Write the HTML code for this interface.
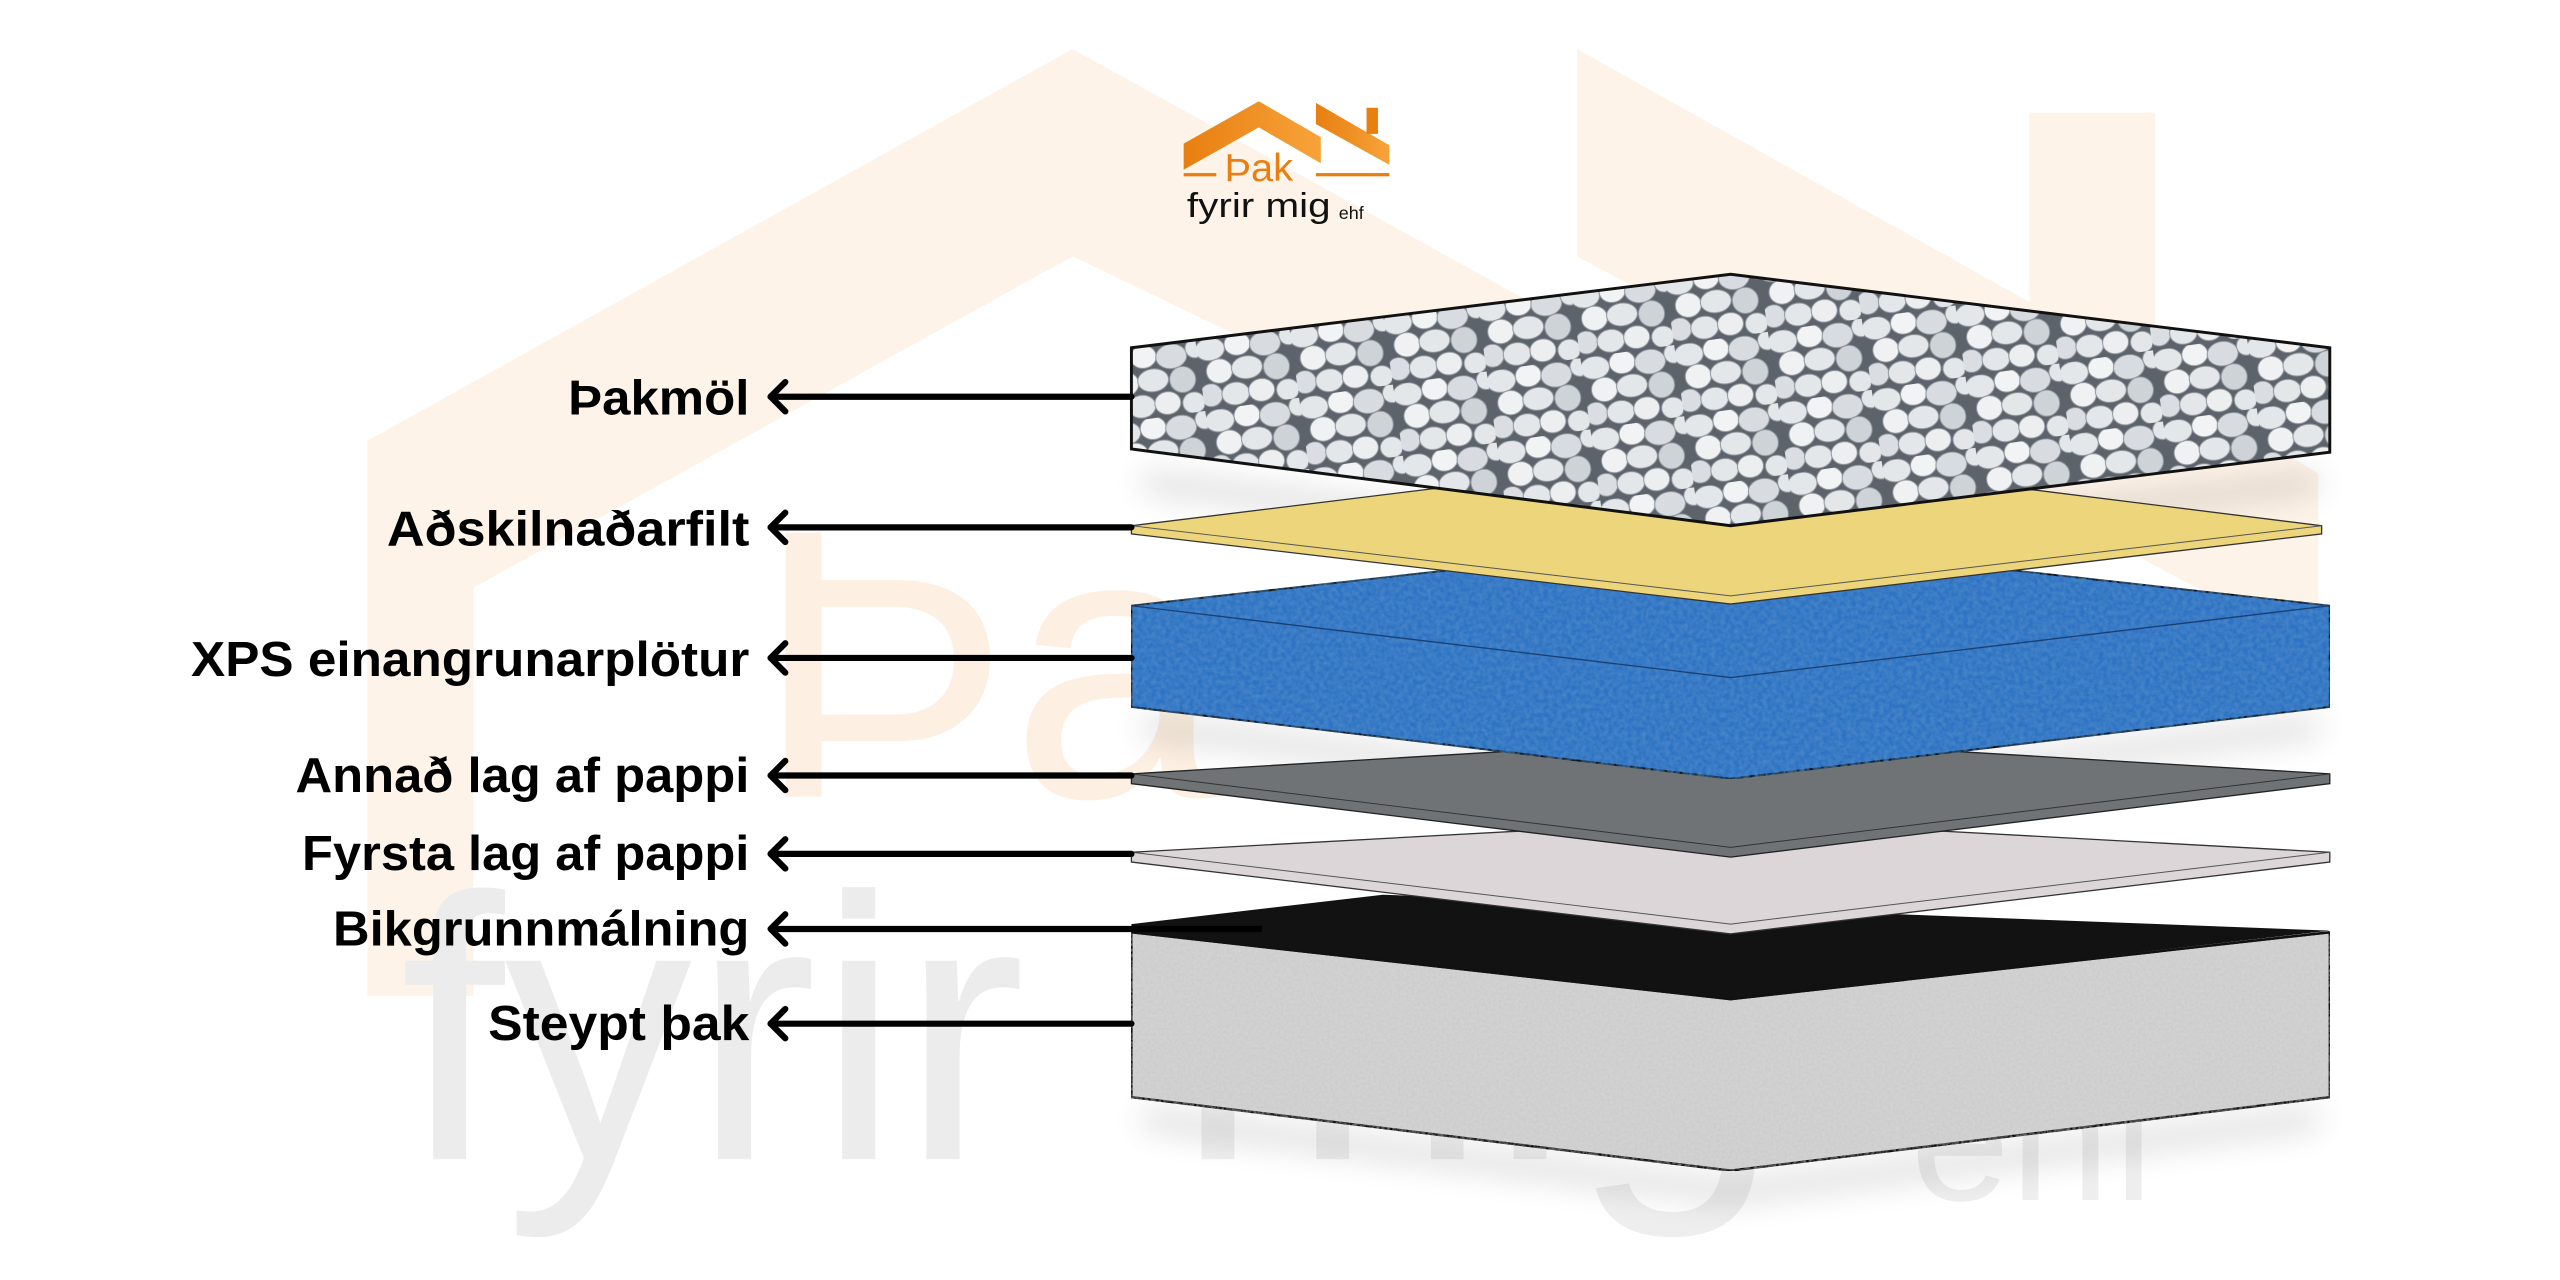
<!DOCTYPE html>
<html><head><meta charset="utf-8"><style>
html,body{margin:0;padding:0;background:#fff;width:2560px;height:1280px;overflow:hidden}
svg{display:block}
</style></head><body>
<svg width="2560" height="1280" viewBox="0 0 1568 784" xmlns="http://www.w3.org/2000/svg">
<defs>
<pattern id="grav" width="58" height="44" patternUnits="userSpaceOnUse" patternTransform="rotate(-8)">
<rect width="58" height="44" fill="#5d636a"/>
<g fill="#e4e7ea" stroke="#8d949b" stroke-width="0.6">
<ellipse cx="8" cy="7" rx="9" ry="7"/>
<ellipse cx="25" cy="6" rx="8" ry="7" fill="#f2f3f4"/>
<ellipse cx="42" cy="8" rx="9.5" ry="7.5" fill="#d8dce0"/>
<ellipse cx="57" cy="5" rx="6" ry="6"/>
<ellipse cx="12" cy="21" rx="8" ry="7.5" fill="#f0f1f2"/>
<ellipse cx="29" cy="21" rx="9.5" ry="7"/>
<ellipse cx="47" cy="23" rx="8" ry="8" fill="#ced3d8"/>
<ellipse cx="5" cy="35" rx="7" ry="7" fill="#dadee2"/>
<ellipse cx="20" cy="36" rx="8.5" ry="7"/>
<ellipse cx="36" cy="36" rx="8" ry="7" fill="#eceeef"/>
<ellipse cx="52" cy="38" rx="7" ry="6.5"/>
</g>
</pattern>
<filter id="noiseB" x="0" y="0" width="100%" height="100%">
<feTurbulence type="fractalNoise" baseFrequency="0.35" numOctaves="2" seed="3" result="n"/>
<feColorMatrix in="n" type="matrix" values="0 0 0 0 0.1  0 0 0 0 0.3  0 0 0 0 0.6  0 0 0 0.9 -0.25" result="c"/>
<feComposite in="c" in2="SourceGraphic" operator="in" result="t"/>
<feMerge><feMergeNode in="SourceGraphic"/><feMergeNode in="t"/></feMerge>
</filter>
<filter id="noiseG" x="0" y="0" width="100%" height="100%">
<feTurbulence type="fractalNoise" baseFrequency="0.6" numOctaves="2" seed="7" result="n"/>
<feColorMatrix in="n" type="matrix" values="0 0 0 0 0.5  0 0 0 0 0.5  0 0 0 0 0.5  0 0 0 0.6 -0.2" result="c"/>
<feComposite in="c" in2="SourceGraphic" operator="in" result="t"/>
<feMerge><feMergeNode in="SourceGraphic"/><feMergeNode in="t"/></feMerge>
</filter>
<filter id="blur"><feGaussianBlur stdDeviation="10"/></filter>
<linearGradient id="og" x1="0" y1="0" x2="1" y2="0"><stop offset="0" stop-color="#e87f10"/><stop offset="1" stop-color="#f7a33a"/></linearGradient>
</defs>

<g fill="#fdf3e8">
<polygon points="225,270 657,30 1100,275 1100,370 657,157 290,360 290,610 225,610"/>
<polygon points="966,30 1243,185 1243,69 1320,69 1320,230 1420,290 1420,400 966,157"/>
</g>
<text x="462" y="488" font-family="Liberation Sans, sans-serif" font-size="235" fill="#fdf0e2">Þa</text>
<text x="245" y="710" font-family="Liberation Sans, sans-serif" font-size="230" fill="#ececec">fyrir</text>
<text x="720" y="710" font-family="Liberation Sans, sans-serif" font-size="230" fill="#eeeeee">mig</text>
<text x="1170" y="735" font-family="Liberation Sans, sans-serif" font-size="110" fill="#eeeeee">ehf</text>

<g>
<polygon points="725,88 771,62 809,84 809,100 771,78 725,104" fill="url(#og)"/>
<polygon points="806,63 851,89 851,101 806,76" fill="url(#og)"/>
<rect x="837" y="66" width="7" height="16" fill="#e87f10"/>
<rect x="725" y="106" width="20" height="2" fill="#e87f10"/>
<rect x="806" y="106" width="45" height="2" fill="#e87f10"/>
<text x="750" y="111" font-family="Liberation Sans, sans-serif" font-size="24" fill="#e87f10" textLength="42" lengthAdjust="spacingAndGlyphs">Þak</text>
<text x="727" y="133" font-family="Liberation Sans, sans-serif" font-size="21" fill="#111" textLength="88" lengthAdjust="spacingAndGlyphs">fyrir mig</text>
<text x="820" y="134" font-family="Liberation Sans, sans-serif" font-size="11" fill="#111">ehf</text>
</g>

<g fill="#000" opacity="0.18" filter="url(#blur)">
<polygon points="700,290 1060,335 1420,290 1420,300 1060,345 700,300"/>
<polygon points="700,440 1060,485 1420,440 1420,450 1060,495 700,450"/>
<polygon points="700,680 1060,725 1420,680 1420,690 1060,735 700,690"/>
</g>

<polygon points="693,571 1060,612 1427,571 1427,672 1060,717 693,672" fill="#d2d2d2" filter="url(#noiseG)" stroke="#111" stroke-width="1.5"/>
<polygon points="693,566 847,548 1427,570 1060,612 693,571" fill="#121212"/>
<polyline points="693,571 1060,612 1427,571" fill="none" stroke="#111" stroke-width="1.5"/>

<polygon points="693,522 1060,502 1427,522 1427,528 1060,572 693,528" fill="#dcd6d8" stroke="#333" stroke-width="0.8"/>
<polyline points="693,522 1060,566 1427,522" fill="none" stroke="#555" stroke-width="0.6"/>

<polygon points="693,474 1060,452 1427,474 1427,480 1060,525 693,480" fill="#6f7375" stroke="#222" stroke-width="0.8"/>
<polyline points="693,474 1060,519 1427,474" fill="none" stroke="#333" stroke-width="0.6"/>

<polygon points="693,371 1060,330 1427,371 1427,433 1060,477 693,433" fill="#2f73c4" filter="url(#noiseB)" stroke="#111" stroke-width="1.2"/>
<polyline points="693,371 1060,415 1427,371" fill="none" stroke="#1a3f70" stroke-width="0.8"/>

<polygon points="693,322 1060,277 1422,322 1422,327 1060,370 693,327" fill="#ecd57a" stroke="#333" stroke-width="0.8"/>
<polyline points="693,322 1060,365 1422,322" fill="none" stroke="#555" stroke-width="0.6"/>

<polygon points="693,213 1060,168 1427,213 1427,277 1060,322 693,275" fill="url(#grav)" stroke="#111" stroke-width="1.8"/>

<g stroke="#000" stroke-width="3.8" fill="none" stroke-linecap="round" stroke-linejoin="round">
<line x1="472" y1="243" x2="693" y2="243"/><polyline points="481,234 472,243 481,252"/>
<line x1="472" y1="323" x2="693" y2="323"/><polyline points="481,314 472,323 481,332"/>
<line x1="472" y1="403" x2="693" y2="403"/><polyline points="481,394 472,403 481,412"/>
<line x1="472" y1="475" x2="693" y2="475"/><polyline points="481,466 472,475 481,484"/>
<line x1="472" y1="523" x2="693" y2="523"/><polyline points="481,514 472,523 481,532"/>
<line x1="472" y1="569" x2="773" y2="569" stroke-linecap="butt"/><polyline points="481,560 472,569 481,578"/>
<line x1="472" y1="627" x2="693" y2="627"/><polyline points="481,618 472,627 481,636"/>
</g>

<g font-family="Liberation Sans, sans-serif" font-weight="bold" font-size="30" fill="#000">
<text x="348" y="254" textLength="111" lengthAdjust="spacingAndGlyphs">Þakmöl</text>
<text x="237" y="334" textLength="222" lengthAdjust="spacingAndGlyphs">Aðskilnaðarfilt</text>
<text x="117" y="414" textLength="342" lengthAdjust="spacingAndGlyphs">XPS einangrunarplötur</text>
<text x="181" y="485" textLength="278" lengthAdjust="spacingAndGlyphs">Annað lag af pappi</text>
<text x="185" y="533" textLength="274" lengthAdjust="spacingAndGlyphs">Fyrsta lag af pappi</text>
<text x="204" y="579" textLength="255" lengthAdjust="spacingAndGlyphs">Bikgrunnmálning</text>
<text x="299" y="637" textLength="160" lengthAdjust="spacingAndGlyphs">Steypt þak</text>
</g>
</svg>
</body></html>
